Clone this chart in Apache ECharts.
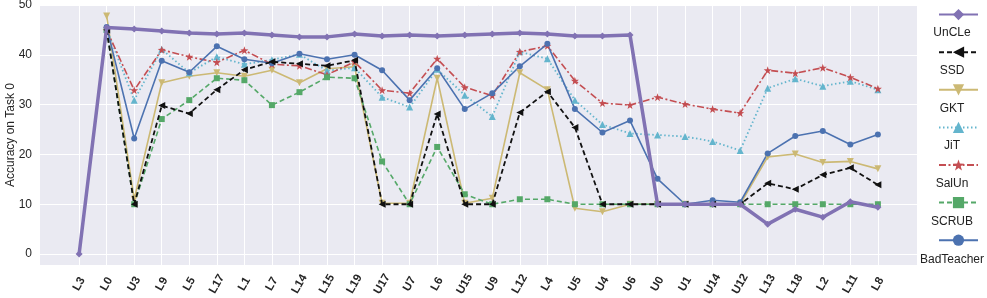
<!DOCTYPE html>
<html><head><meta charset="utf-8">
<script src="https://cdn.jsdelivr.net/npm/echarts@6/dist/echarts.min.js"></script>
<style>html,body{margin:0;padding:0;background:#fff}#c{width:987px;height:298px}</style>
</head><body><div id="c"></div>
<script>
const categories = ['L3','L0','U3','L9','L5','L17','L1','L7','L14','L15','L19','U17','U7','L6','U15','U9','L12','L4','U5','U4','U6','U0','U1','U14','U12','L13','L18','L2','L11','L8'];
const yTicks = [0,10,20,30,40,50];
const seriesNames = ['UnCLe','SSD','GKT','JiT','SalUn','SCRUB','BadTeacher'];
const uncle = [0,45.5,45.2,44.8,44.4,44.2,44.4,44.0,43.6,43.6,44.2,43.8,44.0,43.8,44.0,44.2,44.4,44.2,43.8,43.8,44.0,10,10,10,10,6.0,9.0,7.4,10.5,9.4];
const ssd = [null,45.0,10,29.8,28.2,33.0,37.0,38.6,38.2,37.8,38.9,10,10,28.1,10,10,28.4,32.6,25.4,10,10,10,10,10,10,14.2,13.0,15.9,17.3,13.9];
const gkt = [null,47.8,11.0,34.4,35.7,36.4,35.7,36.9,34.4,37.2,37.6,10.2,10.2,35.3,10.2,11.2,36.4,33.0,9.2,8.5,10,10,10,10,10,19.5,20.1,18.4,18.6,17.1];
const jit = [null,45.2,30.9,41.1,36.4,39.6,38.1,39.0,40.1,36.8,37.4,31.5,29.5,37.1,31.9,27.6,40.6,39.2,30.9,26.0,24.2,23.9,23.6,22.6,20.8,33.3,35.2,33.7,34.7,33.0];
const salun = [null,45.0,32.9,41.0,39.6,38.5,40.9,38.1,37.8,36.0,38.6,32.9,32.3,39.2,33.5,31.8,40.6,41.8,34.8,30.3,29.9,31.5,30.1,29.1,28.3,36.9,36.3,37.4,35.5,33.2];
const scrub = [null,45.0,10,27.1,30.9,35.3,34.9,29.9,32.5,35.5,35.3,18.6,10,21.5,12.0,10,11.0,11.0,10,10,10,10,10,10,10,10,10,10,10,10];
const badTeacher = [null,45.6,23.2,38.8,36.5,41.7,39.1,38.3,40.2,39.1,40.0,36.9,30.9,37.3,29.1,32.3,37.7,42.2,29.1,24.4,26.8,15.1,10.0,10.8,10.4,20.2,23.7,24.7,22.0,24.0];

const values = [uncle, ssd, gkt, jit, salun, scrub, badTeacher];
const colors = ['#8172B3','#111111','#CCB974','#64B5CD','#C44E52','#55A868','#4C72B0'];
const star = 'path://M0,-10 L2.35,-3.24 9.51,-3.09 3.8,1.24 5.88,8.09 0,4 -5.88,8.09 -3.8,1.24 -9.51,-3.09 -2.35,-3.24Z';
const styles = [
  {symbol:'diamond', size:7, rot:0, width:3.5, type:'solid', z:10},
  {symbol:'triangle', size:7, rot:90, width:1.8, type:[5,3], z:4},
  {symbol:'triangle', size:7, rot:180, width:1.6, type:'solid', z:3},
  {symbol:'triangle', size:7, rot:0, width:1.8, type:[1.5,2.5], z:3},
  {symbol:star, size:8, rot:0, width:1.6, type:[7,2.5,2,2.5], z:3},
  {symbol:'rect', size:6, rot:0, width:1.6, type:[5,3], z:3},
  {symbol:'circle', size:6, rot:0, width:1.6, type:'solid', z:3}
];
const idx = categories.map((_, i) => i);

const chart = echarts.init(document.getElementById('c'), null, {renderer:'canvas'});
const series = seriesNames.map((name, k) => ({
  name, type:'line', z: styles[k].z,
  data: values[k].map((v, i) => v === null ? null : [i, v]).filter(d => d !== null),
  symbol: styles[k].symbol, symbolSize: styles[k].size, symbolRotate: styles[k].rot,
  showAllSymbol: true,
  lineStyle: {color: colors[k], width: styles[k].width, type: styles[k].type},
  itemStyle: {color: colors[k], borderWidth: 0},
  emphasis: {disabled: true},
  animation: false
}));
// vertical white grid lines at each category, placed through the x scale
series.push({
  name: '_grid', type: 'line', z: 0, data: [], silent: true, animation: false,
  markLine: {
    z: 0, silent: true, symbol: ['none','none'], label: {show:false}, animation: false,
    lineStyle: {color:'#ffffff', width:1, type:'solid'},
    emphasis: {disabled: true},
    data: idx.map(i => ({xAxis: i}))
  }
});

const legendTop = 14, legendStep = 37.7;
const graphics = seriesNames.map((n, k) => ({
  type:'text', x: 952, y: legendTop + 19 + k*legendStep,
  style: {text: n, align:'center', verticalAlign:'middle', fill:'#222', font:'12px "Liberation Sans", Arial, sans-serif'}
}));

chart.setOption({
  animation: false,
  backgroundColor: '#ffffff',
  textStyle: {fontFamily: '"Liberation Sans", Arial, sans-serif'},
  grid: {left: 40, right: 70, top: 5, bottom: 33, show: true, backgroundColor: '#EAEAF2', borderWidth: 0, containLabel: false, outerBoundsMode: 'none'},
  xAxis: {
    type:'value', min:-1.42, max:30.42,
    axisLine:{show:false},
    axisTick:{show:false, customValues: idx},
    splitLine:{show:false},
    axisLabel:{customValues: idx, formatter: v => categories[Math.round(v)], rotate:60, align:'center', verticalAlign:'middle', fontWeight:'bold', fontSize:11.5, color:'#262626', margin:19}
  },
  yAxis: {
    type:'value', min:-2.2, max:50,
    name:'Accuracy on Task 0', nameLocation:'middle', nameGap:23, nameMoveOverlap:false,
    nameTextStyle:{fontSize:12, color:'#262626'},
    axisLine:{show:false},
    axisTick:{show:false, customValues: yTicks},
    splitLine:{show:true, lineStyle:{color:'#ffffff', width:1}},
    axisLabel:{customValues: yTicks, fontSize:12, color:'#262626', margin:8}
  },
  legend: {
    orient:'vertical', left: 933, top: legendTop - 10, itemWidth: 39, itemHeight: 14, itemGap: 26.4,
    selectedMode: false, formatter: () => '', textStyle:{fontSize:8, lineHeight:8},
    data: seriesNames
  },
  graphic: graphics,
  series
});
</script></body></html>
